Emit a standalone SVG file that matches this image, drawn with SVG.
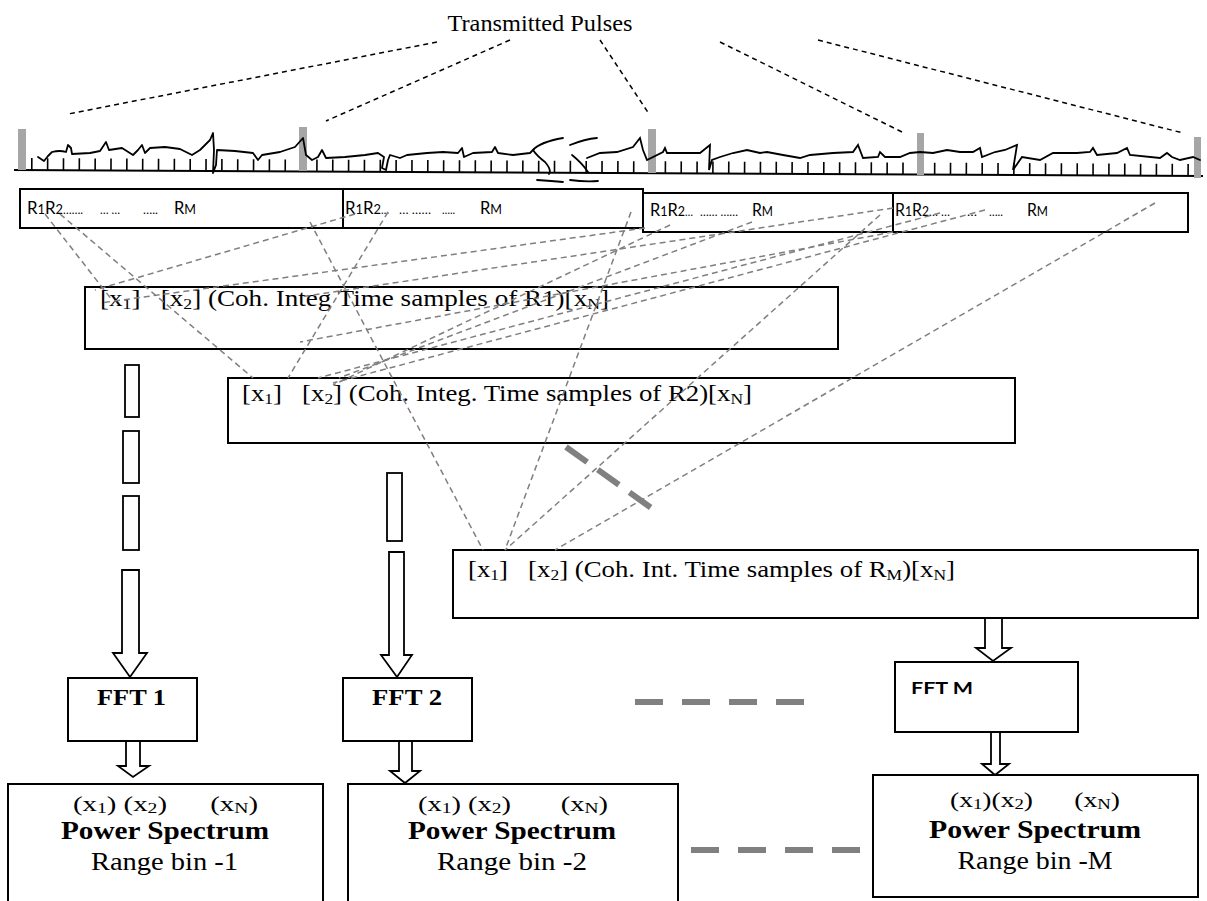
<svg xmlns="http://www.w3.org/2000/svg" width="1207" height="901" viewBox="0 0 1207 901">
<style>
.box{fill:none;stroke:#000;stroke-width:2}
.gd{fill:none;stroke:#7f7f7f;stroke-width:1.5;stroke-dasharray:6 4}
.bd{fill:none;stroke:#000;stroke-width:1.5;stroke-dasharray:5 4}
.thick{fill:none;stroke:#808080;stroke-width:6}
.arrow{fill:#fff;stroke:#000;stroke-width:1.8}
.pulse{fill:#a6a6a6}
.tnr{font-family:"Liberation Serif","Times New Roman",serif;fill:#000;white-space:pre}
.cal{font-family:Lato,"Liberation Sans",sans-serif;fill:#000;white-space:pre}
.sub{font-size:15px}
.rs{font-size:13px}
</style>
<rect width="1207" height="901" fill="#fff"/>

<g id="title">
<text class="tnr" x="540" y="31" font-size="24" text-anchor="middle" textLength="185" lengthAdjust="spacingAndGlyphs">Transmitted Pulses</text>
</g>

<g id="pulse-lines">
<line class="bd" x1="437" y1="42" x2="68" y2="114"/>
<line class="bd" x1="510" y1="40" x2="326" y2="121"/>
<line class="bd" x1="600" y1="40" x2="649" y2="114"/>
<line class="bd" x1="720" y1="42" x2="904" y2="133"/>
<line class="bd" x1="818" y1="40" x2="1183" y2="133"/>
</g>

<g id="pulse-train">
<line x1="14" y1="170" x2="1203" y2="176" stroke="#000" stroke-width="2"/>
<line x1="31" y1="164.1" x2="1203" y2="170" stroke="#000" stroke-width="12" stroke-dasharray="1.6 14.24"/>
<rect class="pulse" x="18" y="129" width="8" height="41"/>
<rect class="pulse" x="299" y="127" width="8" height="44"/>
<rect class="pulse" x="648" y="129" width="8" height="44"/>
<rect class="pulse" x="917" y="133" width="7" height="42"/>
<rect class="pulse" x="1194" y="137" width="7" height="41"/>
<path fill="none" stroke="#000" stroke-width="1.8" stroke-linejoin="round" stroke-linecap="round" d="M38,157 L44,161 L48,156 L52,152 Q60,150 66,152 L68,145 L71,148 L72,154 L90,153 L100,151 L106,142 L109,150 L122,148 L133,155 L138,150 L142,145 L145,153 L150,148 L165,147 L180,149 L186,152 L192,155 L200,150 L210,140 L213,133 L214,150 L213,173 L216,165 L217,150 L235,151 L253,153 L258,160 L262,155 L280,152 L295,147 L303,138 L306,155 L312,160 L318,157 L322,150 L326,158 L345,157 L365,155 L378,153 L384,157 L382,168 L386,170 L388,160 L390,155 L400,158 L407,155 L427,153 L443,152 L458,153 L462,148 L464,157 L473,153 L492,152 L495,147 L498,153 L513,155 L530,153 L534,149"/>
<path fill="none" stroke="#000" stroke-width="1.8" stroke-linecap="round" d="M563,138 Q540,142 533,150 Q537,156 545,162 Q552,170 549,174 M537,180 Q552,181 563,182 M570,145 Q585,139 597,138 M572,155 Q582,163 588,172 M570,180 Q585,182 598,181 M587,158 L600,153 L617,152 L633,147 L640,138 L643,150 L647,160 L663,152 L665,148 L667,153 L683,153 L700,153 L710,145 L709,170 L712,160 L720,157 L733,153 L747,150 L760,153 L767,152 L783,155 L800,158 L810,155 L833,153 L853,152 L858,145 L863,158 L878,157 L880,152 L885,157 L900,157 L910,153 L920,152 L933,153 L947,150 L960,152 L973,152 L980,148 L982,157 L995,152 L1005,150 L1017,145 L1013,170 L1022,157 L1040,160 L1053,153 L1077,153 L1090,152 L1093,148 L1097,155 L1117,153 L1127,148 L1130,155 L1160,158 L1167,153 L1172,157 L1180,160 L1193,157 L1200,160"/>
</g>

<g id="range-block-1">
<rect class="box" x="20" y="189" width="323" height="39"/>
<text class="cal" x="27" y="214" font-size="17" textLength="36" lengthAdjust="spacingAndGlyphs">R<tspan class="rs">1</tspan>R<tspan class="rs">2</tspan></text>
<text class="cal" x="63" y="214" font-size="12" textLength="20" lengthAdjust="spacingAndGlyphs">…….</text>
<text class="cal" x="100" y="214" font-size="12" textLength="20" lengthAdjust="spacingAndGlyphs">… …</text>
<text class="cal" x="143" y="214" font-size="12" textLength="15" lengthAdjust="spacingAndGlyphs">…..</text>
<text class="cal" x="174" y="214" font-size="17" textLength="22" lengthAdjust="spacingAndGlyphs">R<tspan class="rs">M</tspan></text>
</g>
<g id="range-block-2">
<rect class="box" x="343" y="189" width="300" height="39"/>
<text class="cal" x="345" y="214" font-size="17" textLength="36" lengthAdjust="spacingAndGlyphs">R<tspan class="rs">1</tspan>R<tspan class="rs">2</tspan></text>
<text class="cal" x="381" y="214" font-size="12" textLength="8" lengthAdjust="spacingAndGlyphs">…</text>
<text class="cal" x="399" y="214" font-size="12" textLength="32" lengthAdjust="spacingAndGlyphs">… ……</text>
<text class="cal" x="442" y="214" font-size="12" textLength="13" lengthAdjust="spacingAndGlyphs">…..</text>
<text class="cal" x="480" y="214" font-size="17" textLength="22" lengthAdjust="spacingAndGlyphs">R<tspan class="rs">M</tspan></text>
</g>
<g id="range-block-3">
<rect class="box" x="643" y="193" width="250" height="39"/>
<text class="cal" x="650" y="216" font-size="17" textLength="35" lengthAdjust="spacingAndGlyphs">R<tspan class="rs">1</tspan>R<tspan class="rs">2</tspan></text>
<text class="cal" x="685" y="216" font-size="12" textLength="8" lengthAdjust="spacingAndGlyphs">…</text>
<text class="cal" x="700" y="216" font-size="12" textLength="38" lengthAdjust="spacingAndGlyphs">…… ……</text>
<text class="cal" x="752" y="216" font-size="17" textLength="21" lengthAdjust="spacingAndGlyphs">R<tspan class="rs">M</tspan></text>
</g>
<g id="range-block-4">
<rect class="box" x="893" y="193" width="295" height="39"/>
<text class="cal" x="895" y="216" font-size="17" textLength="34" lengthAdjust="spacingAndGlyphs">R<tspan class="rs">1</tspan>R<tspan class="rs">2</tspan></text>
<text class="cal" x="929" y="216" font-size="12" textLength="21" lengthAdjust="spacingAndGlyphs">… …</text>
<text class="cal" x="967" y="216" font-size="12" textLength="10" lengthAdjust="spacingAndGlyphs">…</text>
<text class="cal" x="989" y="216" font-size="12" textLength="14" lengthAdjust="spacingAndGlyphs">…..</text>
<text class="cal" x="1027" y="216" font-size="17" textLength="21" lengthAdjust="spacingAndGlyphs">R<tspan class="rs">M</tspan></text>
</g>

<g id="integ-R1">
<rect class="box" x="85" y="287" width="753" height="62"/>
<text class="tnr" x="100" y="306" font-size="23" textLength="509" lengthAdjust="spacingAndGlyphs">[x<tspan class="sub" dy="3">1</tspan><tspan dy="-3">]   [x</tspan><tspan class="sub" dy="3">2</tspan><tspan dy="-3">] (Coh. Integ Time samples of R1)[x</tspan><tspan class="sub" dy="3">N</tspan><tspan dy="-3">]</tspan></text>
</g>
<g id="integ-R2">
<rect class="box" x="228" y="378" width="787" height="65"/>
<text class="tnr" x="242" y="401" font-size="23" textLength="510" lengthAdjust="spacingAndGlyphs">[x<tspan class="sub" dy="3">1</tspan><tspan dy="-3">]   [x</tspan><tspan class="sub" dy="3">2</tspan><tspan dy="-3">] (Coh. Integ. Time samples of R2)[x</tspan><tspan class="sub" dy="3">N</tspan><tspan dy="-3">]</tspan></text>
</g>
<g id="integ-RM">
<rect class="box" x="453" y="550" width="745" height="68"/>
<text class="tnr" x="468" y="577" font-size="23" textLength="487" lengthAdjust="spacingAndGlyphs">[x<tspan class="sub" dy="3">1</tspan><tspan dy="-3">]   [x</tspan><tspan class="sub" dy="3">2</tspan><tspan dy="-3">] (Coh. Int. Time samples of R</tspan><tspan class="sub" dy="3">M</tspan><tspan dy="-3">)[x</tspan><tspan class="sub" dy="3">N</tspan><tspan dy="-3">]</tspan></text>
</g>

<g id="fft-1">
<rect class="box" x="68" y="678" width="129" height="63"/>
<text class="tnr" x="131.5" y="705" font-size="24" font-weight="bold" text-anchor="middle" textLength="69" lengthAdjust="spacingAndGlyphs">FFT 1</text>
</g>
<g id="fft-2">
<rect class="box" x="343" y="678" width="129" height="63"/>
<text class="tnr" x="407" y="705" font-size="24" font-weight="bold" text-anchor="middle" textLength="70" lengthAdjust="spacingAndGlyphs">FFT 2</text>
</g>
<g id="fft-M">
<rect class="box" x="895" y="662" width="183" height="70"/>
<text class="cal" x="911" y="694" font-size="17" font-weight="bold" textLength="62" lengthAdjust="spacingAndGlyphs">FFT M</text>
</g>

<g id="spectrum-1">
<rect class="box" x="8" y="784" width="315" height="130"/>
<text class="tnr" x="165.5" y="811" font-size="22" text-anchor="middle" textLength="185" lengthAdjust="spacingAndGlyphs">(x<tspan class="sub" dy="2">1</tspan><tspan dy="-2">) (x</tspan><tspan class="sub" dy="2">2</tspan><tspan dy="-2">)      (x</tspan><tspan class="sub" dy="2">N</tspan><tspan dy="-2">)</tspan></text>
<text class="tnr" x="165" y="839" font-size="25" font-weight="bold" text-anchor="middle" textLength="208" lengthAdjust="spacingAndGlyphs">Power Spectrum</text>
<text class="tnr" x="164.5" y="870" font-size="25" text-anchor="middle" textLength="147" lengthAdjust="spacingAndGlyphs">Range bin -1</text>
</g>
<g id="spectrum-2">
<rect class="box" x="348" y="784" width="330" height="130"/>
<text class="tnr" x="513" y="811" font-size="22" text-anchor="middle" textLength="190" lengthAdjust="spacingAndGlyphs">(x<tspan class="sub" dy="2">1</tspan><tspan dy="-2">) (x</tspan><tspan class="sub" dy="2">2</tspan><tspan dy="-2">)       (x</tspan><tspan class="sub" dy="2">N</tspan><tspan dy="-2">)</tspan></text>
<text class="tnr" x="512" y="839" font-size="25" font-weight="bold" text-anchor="middle" textLength="208" lengthAdjust="spacingAndGlyphs">Power Spectrum</text>
<text class="tnr" x="512" y="870" font-size="25" text-anchor="middle" textLength="150" lengthAdjust="spacingAndGlyphs">Range bin -2</text>
</g>
<g id="spectrum-M">
<rect class="box" x="873" y="775" width="325" height="122"/>
<text class="tnr" x="1035" y="807" font-size="22" text-anchor="middle" textLength="170" lengthAdjust="spacingAndGlyphs">(x<tspan class="sub" dy="2">1</tspan><tspan dy="-2">)(x</tspan><tspan class="sub" dy="2">2</tspan><tspan dy="-2">)      (x</tspan><tspan class="sub" dy="2">N</tspan><tspan dy="-2">)</tspan></text>
<text class="tnr" x="1035" y="838" font-size="25" font-weight="bold" text-anchor="middle" textLength="212" lengthAdjust="spacingAndGlyphs">Power Spectrum</text>
<text class="tnr" x="1035" y="869" font-size="25" text-anchor="middle" textLength="155" lengthAdjust="spacingAndGlyphs">Range bin -M</text>
</g>

<g id="connectors">
<line class="gd" x1="45" y1="214" x2="112" y2="300"/>
<line class="gd" x1="60" y1="214" x2="253" y2="378"/>
<line class="gd" x1="310" y1="222" x2="483" y2="550"/>
<line class="gd" x1="388" y1="212" x2="288" y2="378"/>
<line class="gd" x1="355" y1="214" x2="95" y2="290"/>
<line class="gd" x1="631" y1="212" x2="505" y2="550"/>
<line class="gd" x1="670" y1="225" x2="333" y2="385"/>
<line class="gd" x1="880" y1="215" x2="505" y2="550"/>
<line class="gd" x1="645" y1="228" x2="100" y2="303"/>
<line class="gd" x1="893" y1="208" x2="300" y2="297"/>
<line class="gd" x1="940" y1="213" x2="318" y2="378"/>
<line class="gd" x1="752" y1="222" x2="339" y2="378"/>
<line class="gd" x1="985" y1="210" x2="333" y2="383"/>
<line class="gd" x1="893" y1="232" x2="300" y2="342"/>
<line class="gd" x1="1155" y1="203" x2="555" y2="550"/>

<rect class="arrow" x="125" y="365" width="14" height="52"/>
<rect class="arrow" x="123" y="431" width="16" height="52"/>
<rect class="arrow" x="123" y="496" width="16" height="54"/>
<polygon class="arrow" points="122,570 139,570 139,653 147,653 130,677 113,653 122,653"/>
<rect class="arrow" x="387" y="473" width="15" height="68"/>
<polygon class="arrow" points="389,552 404,552 404,655 412,655 397,677 381,655 389,655"/>
<polygon class="arrow" points="126,741 140,741 140,766 149,766 133,777 118,766 126,766"/>
<polygon class="arrow" points="399,741 412,741 412,771 420,771 405,783 390,771 399,771"/>
<polygon class="arrow" points="985,618 1002,618 1002,648 1011,648 993,661 976,648 985,648"/>
<polygon class="arrow" points="991,732 1000,732 1000,764 1009,764 995,775 982,764 991,764"/>

<line class="thick" x1="566" y1="447" x2="657" y2="512" stroke-dasharray="26 13"/>
<line class="thick" x1="635" y1="702" x2="805" y2="702" stroke-dasharray="28 19"/>
<line class="thick" x1="691" y1="850" x2="861" y2="850" stroke-dasharray="28 19"/>
</g>
</svg>
